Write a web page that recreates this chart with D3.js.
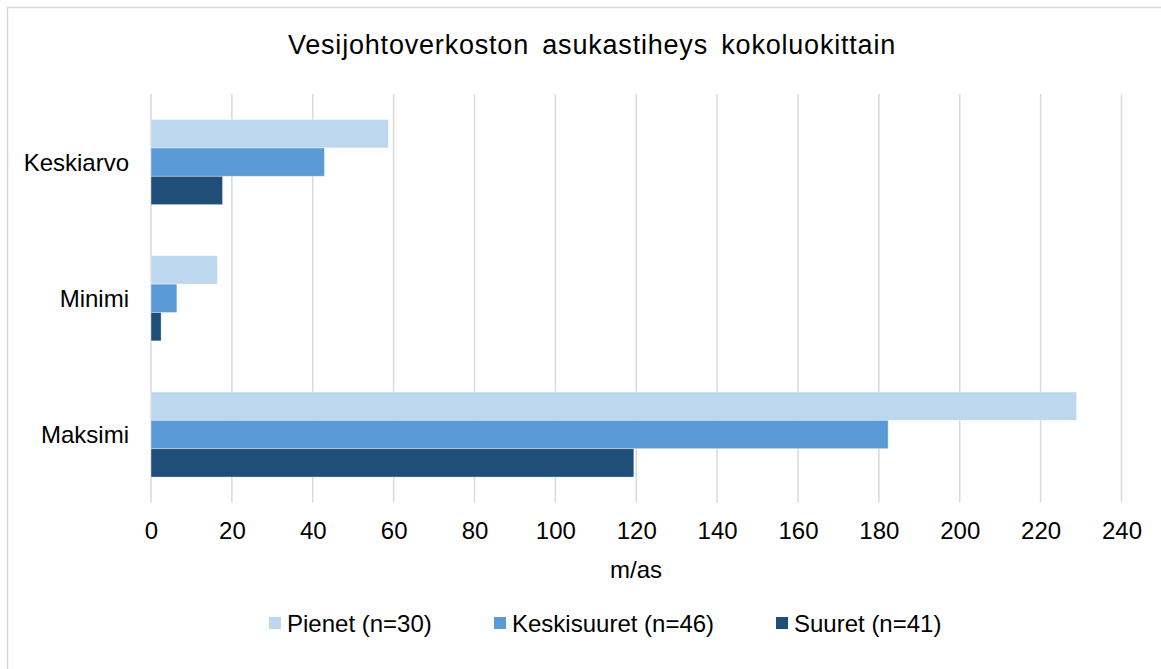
<!DOCTYPE html>
<html><head><meta charset="utf-8">
<script src="https://cdn.jsdelivr.net/npm/d3@7"></script>
<style>
body{margin:0;background:#fff;}
text{font-family:"Liberation Sans",Arial,sans-serif;fill:#000;}
</style></head>
<body><svg id="c" width="1161" height="669"></svg>
<script>
const title = "Vesijohtoverkoston asukastiheys kokoluokittain";
const categories = ["Keskiarvo", "Minimi", "Maksimi"];
const seriesNames = ["Pienet (n=30)", "Keskisuuret (n=46)", "Suuret (n=41)"];
const pienet = [58.7, 16.4, 228.9];
const keskisuuret = [42.9, 6.4, 182.3];
const suuret = [17.7, 2.5, 119.4];
const xTicks = [0,20,40,60,80,100,120,140,160,180,200,220,240];
const axisTitle = "m/as";
const colors = ["#BDD7EE", "#5B9BD5", "#1F4E79"];

const seriesValues = [pienet, keskisuuret, suuret];
const svg = d3.select("#c");
const FS = "24px";

svg.append("rect").attr("x",7.5).attr("y",7.5).attr("width",1170).attr("height",680)
  .attr("fill","#fff").attr("stroke","#d9d9d9").attr("stroke-width",1.5);

const x = d3.scaleLinear().domain([0,240]).range([151,1121.5]);
const y = d3.scaleBand().domain(categories).range([94,502.6]).paddingInner(0.375).paddingOuter(0.1875);
const ys = d3.scaleBand().domain(d3.range(seriesNames.length)).range([0,y.bandwidth()]);

// gridlines
svg.append("g").selectAll("line").data(xTicks).join("line")
  .attr("x1",d=>x(d)).attr("x2",d=>x(d)).attr("y1",94).attr("y2",502.6)
  .attr("stroke","#d9d9d9").attr("stroke-width",1.5);

// bars
const data = [];
categories.forEach((c,i)=>seriesValues.forEach((s,j)=>data.push({c,j,v:s[i]})));
svg.append("g").selectAll("rect").data(data).join("rect")
  .attr("x",x(0)).attr("y",d=>y(d.c)+ys(d.j))
  .attr("width",d=>x(d.v)-x(0)).attr("height",ys.bandwidth())
  .attr("fill",d=>colors[d.j]).attr("stroke","#fff").attr("stroke-opacity",0.5).attr("stroke-width",0.75);

// x axis labels
const xAxis = d3.axisBottom(x).tickValues(xTicks).tickSize(0).tickPadding(0);
const gx = svg.append("g").attr("transform","translate(0,522)").call(xAxis);
gx.select(".domain").remove();
gx.selectAll("text").attr("dy",0).attr("y",16.5).style("font-size",FS).style("font-family","'Liberation Sans',Arial,sans-serif").attr("fill","#000");

// y axis labels
const yAxis = d3.axisLeft(y).tickSize(0).tickPadding(0);
const gy = svg.append("g").attr("transform","translate(129,0)").call(yAxis);
gy.select(".domain").remove();
gy.selectAll("text").attr("dy","0.35em").style("font-size",FS).style("font-family","'Liberation Sans',Arial,sans-serif").attr("fill","#000");

// title
svg.append("text").attr("x",592).attr("y",53.5).attr("text-anchor","middle")
  .style("font-size","27px").style("letter-spacing","0.8px").style("word-spacing","5px").text(title);

// axis title
svg.append("text").attr("x",636).attr("y",578).attr("text-anchor","middle")
  .style("font-size",FS).text(axisTitle);

// legend
const legX = [269, 494, 776];
const leg = svg.append("g").selectAll("g").data(seriesNames).join("g")
  .attr("transform",(d,i)=>`translate(${legX[i]},0)`);
leg.append("rect").attr("x",0).attr("y",617).attr("width",12).attr("height",12).attr("fill",(d,i)=>colors[i]);
leg.append("text").attr("x",18).attr("y",631.5).style("font-size",FS).text(d=>d);
</script></body></html>
